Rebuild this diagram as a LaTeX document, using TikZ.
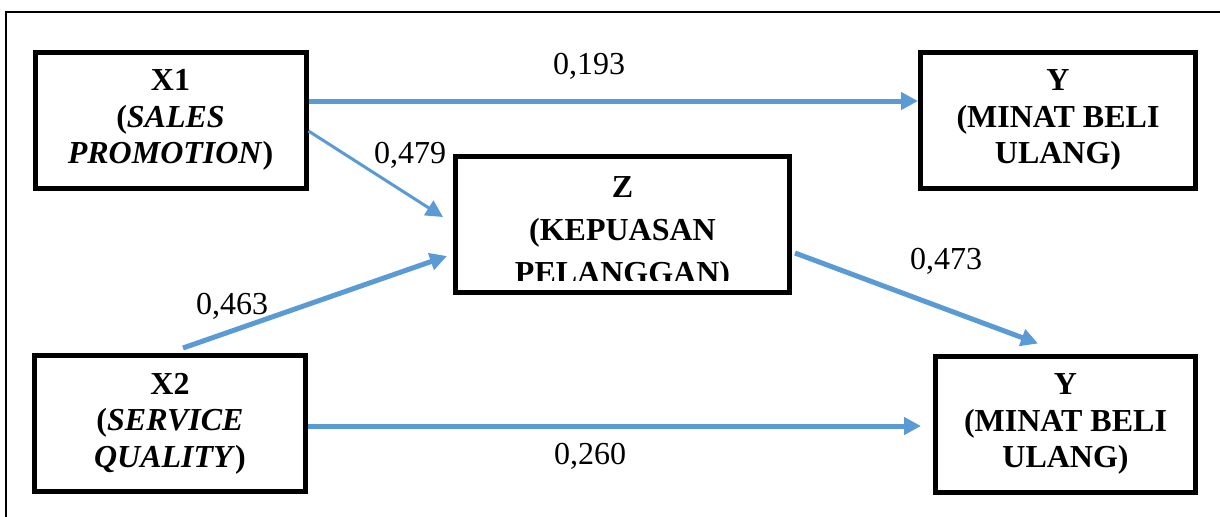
\documentclass[tikz,border=0pt]{standalone}
\usepackage{fontspec}
\setmainfont{Liberation Serif}
\usetikzlibrary{arrows.meta}
\definecolor{path-blue}{HTML}{5B9BD5}
\definecolor{jet}{HTML}{000000}

\begin{document}
\begin{tikzpicture}[x=0.5pt, y=-0.5pt,
  every node/.style={font=\fontsize{16}{18.3}\selectfont, color=jet},
  varbox/.style={draw, line width=2.5pt, inner sep=0pt, minimum height=68pt,
    align=center, font=\fontsize{16}{18.3}\selectfont\bfseries},
  link/.style={color=path-blue, line width=2.5pt, -{Triangle[length=8.5pt,width=8.5pt]}}]
  \useasboundingbox (0,0) rectangle (1220,516);
  \draw[line width=1pt] (6,530) -- (6,12) -- (1230,12);
  % variables
  \node[varbox, minimum width=135.5pt] (x1) at (170.5,120) {X1\\(\textit{SALES}\\\textit{PROMOTION})};
  \node[varbox, minimum width=135.5pt] (x2) at (170,423.5) {X2\\(\textit{SERVICE}\\\textit{QUALITY})};
  \node[varbox, minimum width=167pt] (z) at (622.5,224.5) {};
  \begin{scope}
    \clip (456,157) rectangle (789,280);
    \node[align=center, inner sep=0pt, font=\fontsize{16}{21.5}\selectfont\bfseries] (ztext) at (622.5,233) {Z\\(KEPUASAN\\PELANGGAN)};
  \end{scope}
  \node[varbox, minimum width=137.5pt] (y1) at (1058,120) {Y\\(MINAT BELI\\ULANG)};
  \node[varbox, minimum width=130pt] (y2) at (1065.5,424) {Y\\(MINAT BELI\\ULANG)};
  % paths
  \draw[link] ([yshift=9.5pt]x1.east) -- ([yshift=9.5pt]y1.west);
  \draw[link, line width=1.5pt] ([yshift=-5.5pt]x1.east) -- ([xshift=-5pt,yshift=3.75pt]z.west);
  \draw[link] ([xshift=6.5pt,yshift=2.5pt]x2.north) -- ([xshift=-3pt,yshift=-15.75pt]z.west);
  \draw[link] ([xshift=1.5pt,yshift=-14.25pt]z.east) -- ([xshift=-13.75pt,yshift=5pt]y2.north);
  \draw[link] ([yshift=-1.25pt]x2.east) -- ([xshift=-6pt,yshift=-1pt]y2.west);
  % coefficients
  \node[anchor=base] (c193) at (589,74) {0,193};
  \node[anchor=base] (c479) at (410,163) {0,479};
  \node[anchor=base] (c463) at (232,314) {0,463};
  \node[anchor=base] (c473) at (946,269) {0,473};
  \node[anchor=base] (c260) at (590,464) {0,260};
\end{tikzpicture}
\end{document}
